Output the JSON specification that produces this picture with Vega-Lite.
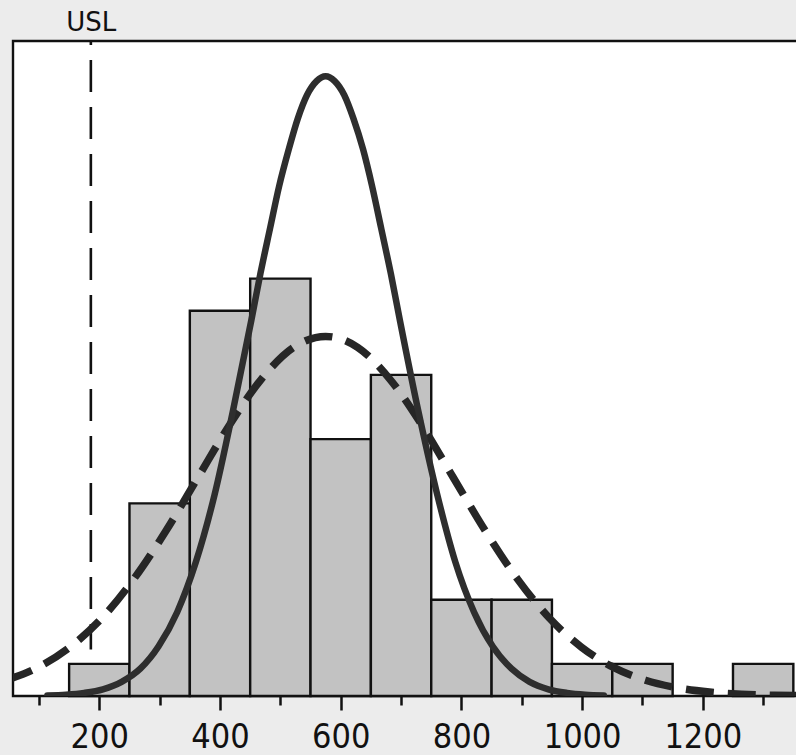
{
  "$schema": "https://vega.github.io/schema/vega-lite/v6.json",
  "width": 790,
  "height": 655,
  "autosize": {"type": "none"},
  "padding": {"left": 13, "top": 41, "right": 0, "bottom": 59},
  "background": "#ececec",
  "view": {"fill": "white", "stroke": "#111111", "strokeWidth": 2.4},
  "datasets": {
    "bins": [
      {"bin_start": 150, "bin_end": 250, "count": 1},
      {"bin_start": 250, "bin_end": 350, "count": 6},
      {"bin_start": 350, "bin_end": 450, "count": 12},
      {"bin_start": 450, "bin_end": 550, "count": 13},
      {"bin_start": 550, "bin_end": 650, "count": 8},
      {"bin_start": 650, "bin_end": 750, "count": 10},
      {"bin_start": 750, "bin_end": 850, "count": 3},
      {"bin_start": 850, "bin_end": 950, "count": 3},
      {"bin_start": 950, "bin_end": 1050, "count": 1},
      {"bin_start": 1050, "bin_end": 1150, "count": 1},
      {"bin_start": 1250, "bin_end": 1350, "count": 1}
    ],
    "within": [
      {"x": 114, "y": 0.017}, {"x": 145, "y": 0.042}, {"x": 175, "y": 0.098},
      {"x": 206, "y": 0.21}, {"x": 237, "y": 0.44}, {"x": 268, "y": 0.85},
      {"x": 298, "y": 1.54}, {"x": 329, "y": 2.61}, {"x": 360, "y": 4.17},
      {"x": 391, "y": 6.27}, {"x": 421, "y": 8.84}, {"x": 452, "y": 11.71},
      {"x": 467, "y": 13.16}, {"x": 483, "y": 14.57}, {"x": 498, "y": 15.88},
      {"x": 514, "y": 17.03}, {"x": 529, "y": 17.99}, {"x": 544, "y": 18.71},
      {"x": 560, "y": 19.15}, {"x": 575, "y": 19.3}, {"x": 590, "y": 19.15},
      {"x": 606, "y": 18.71}, {"x": 621, "y": 17.99}, {"x": 637, "y": 17.03},
      {"x": 652, "y": 15.88}, {"x": 667, "y": 14.57}, {"x": 683, "y": 13.16},
      {"x": 698, "y": 11.71}, {"x": 729, "y": 8.84}, {"x": 760, "y": 6.27},
      {"x": 790, "y": 4.17}, {"x": 821, "y": 2.61}, {"x": 852, "y": 1.54},
      {"x": 883, "y": 0.85}, {"x": 913, "y": 0.44}, {"x": 944, "y": 0.21},
      {"x": 975, "y": 0.098}, {"x": 1005, "y": 0.042}, {"x": 1036, "y": 0.017}
    ],
    "overall": [
      {"x": 45, "y": 0.49}, {"x": 98, "y": 0.89}, {"x": 151, "y": 1.52},
      {"x": 204, "y": 2.42}, {"x": 257, "y": 3.64}, {"x": 310, "y": 5.13},
      {"x": 363, "y": 6.79}, {"x": 416, "y": 8.45}, {"x": 469, "y": 9.88},
      {"x": 522, "y": 10.86}, {"x": 575, "y": 11.2}, {"x": 628, "y": 10.86},
      {"x": 681, "y": 9.88}, {"x": 734, "y": 8.45}, {"x": 787, "y": 6.79},
      {"x": 840, "y": 5.13}, {"x": 893, "y": 3.64}, {"x": 946, "y": 2.42},
      {"x": 999, "y": 1.52}, {"x": 1052, "y": 0.89}, {"x": 1105, "y": 0.49},
      {"x": 1158, "y": 0.255}, {"x": 1211, "y": 0.124}, {"x": 1264, "y": 0.057},
      {"x": 1317, "y": 0.0245}, {"x": 1370, "y": 0.01}
    ],
    "usl": [{"usl": 186, "top": 20.4, "bottom": 1.45, "name": "USL"}]
  },
  "layer": [
    {
      "data": {"name": "bins"},
      "mark": {"type": "rect", "fill": "#c2c2c2", "stroke": "#111111", "strokeWidth": 2.4},
      "encoding": {
        "x": {
          "field": "bin_start", "type": "quantitative",
          "scale": {"domain": [57, 1366], "nice": false, "zero": false},
          "axis": {
            "orient": "bottom",
            "values": [100, 200, 300, 400, 500, 600, 700, 800, 900, 1000, 1100, 1200, 1300],
            "labelExpr": "datum.value % 200 === 0 ? datum.label : ''",
            "format": "d",
            "domain": false, "grid": false, "title": null,
            "tickColor": "#111111", "tickWidth": 2.5,
            "tickSize": {"condition": {"test": "datum.value % 200 === 0", "value": 14}, "value": 9},
            "labelFont": "DejaVu Sans Condensed, Liberation Sans, sans-serif",
            "labelFontSize": 34, "labelColor": "#111111", "labelPadding": 10,
            "labelOverlap": false, "labelFlush": false
          }
        },
        "x2": {"field": "bin_end"},
        "y": {
          "field": "count", "type": "quantitative",
          "scale": {"domain": [0, 20.4], "nice": false},
          "axis": null
        },
        "y2": {"datum": 0}
      }
    },
    {
      "data": {"name": "usl"},
      "mark": {"type": "rule", "stroke": "#111111", "strokeWidth": 2.6, "strokeDash": [32, 15], "strokeDashOffset": 28},
      "encoding": {
        "x": {
          "field": "usl", "type": "quantitative",
          "axis": {
            "orient": "top", "values": [186], "labelExpr": "'USL'",
            "domain": false, "ticks": false, "grid": false, "title": null,
            "labelFont": "DejaVu Sans, sans-serif", "labelFontSize": 26,
            "labelColor": "#111111", "labelPadding": 6
          }
        },
        "y": {"field": "top", "type": "quantitative", "axis": null},
        "y2": {"field": "bottom"}
      }
    },
    {
      "data": {"name": "overall"},
      "mark": {"type": "line", "clip": true, "interpolate": "monotone", "stroke": "#262626", "strokeWidth": 7.5, "strokeDash": [28, 14], "strokeCap": "butt"},
      "encoding": {
        "x": {"field": "x", "type": "quantitative", "axis": null},
        "y": {"field": "y", "type": "quantitative", "axis": null}
      }
    },
    {
      "data": {"name": "within"},
      "mark": {"type": "line", "clip": true, "interpolate": "monotone", "stroke": "#2e2e2e", "strokeWidth": 6.5, "strokeCap": "round"},
      "encoding": {
        "x": {"field": "x", "type": "quantitative", "axis": null},
        "y": {"field": "y", "type": "quantitative", "axis": null}
      }
    }
  ]
}
